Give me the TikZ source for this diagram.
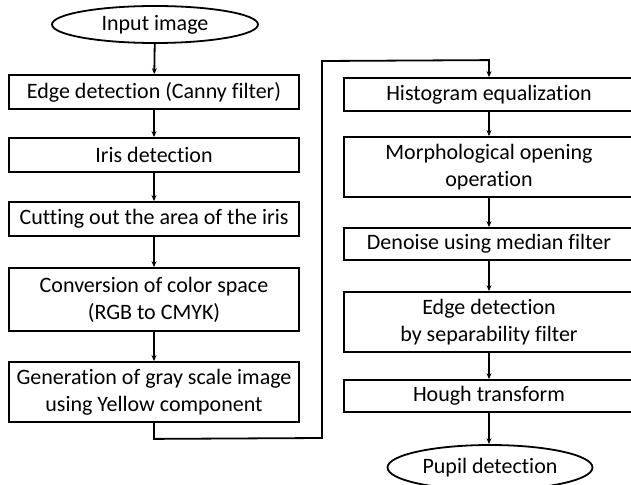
\documentclass[tikz,border=0pt]{standalone}
\usepackage{fontspec}
\setmainfont{Carlito}[Ligatures=NoCommon]
\usetikzlibrary{calc,shapes.geometric,arrows.meta}

\tikzset{
  stepbox/.style={draw=black, line width=1.8pt, rectangle, minimum width=290pt, inner sep=0pt, align=center, font=\fontsize{22}{27}\selectfont},
  termbox/.style={draw=black, line width=1.8pt, ellipse, inner sep=0pt, font=\fontsize{22}{27}\selectfont},
  flow/.style={line width=1.8pt, -{Stealth[length=6pt,width=5pt]}}
}

\begin{document}
\begin{tikzpicture}[x=1pt, y=-1pt]
\useasboundingbox (0,0) rectangle (631,484);

\node[termbox, minimum width=206pt, minimum height=37pt] (input) at (155,24.5) {Input image};

\node[stepbox, minimum height=34pt] (canny) at (154,92) {Edge detection (Canny filter)};

\node[stepbox, minimum height=34pt] (iris) at ($(canny) + (0,63)$) {Iris detection};

\node[stepbox, minimum height=34pt] (cut) at ($(iris) + (0,64)$) {Cutting out the area of the iris};

\node[stepbox, minimum height=63pt] (cmyk) at ($(cut) + (0,80.5)$) {Conversion of color space\\(RGB to CMYK)};

\node[stepbox, minimum height=60pt] (gray) at ($(cmyk) + (0,92.5)$) {Generation of gray scale image\\using Yellow component};

\node[stepbox, minimum height=33pt] (hist) at (489,94.5) {Histogram equalization};

\node[stepbox, minimum height=60pt] (morph) at ($(hist) + (0,72.5)$) {Morphological opening\\operation};

\node[stepbox, minimum height=32pt] (median) at ($(morph) + (0,77)$) {Denoise using median filter};

\node[stepbox, minimum height=60pt] (sep) at ($(median) + (0,78)$) {Edge detection\\by separability filter};

\node[stepbox, minimum height=32pt] (hough) at ($(sep) + (0,74)$) {Hough transform};

\node[termbox, minimum width=205pt, minimum height=45pt] (pupil) at ($(hough) + (1,71.5)$) {Pupil detection};

\coordinate (turn1) at ($(gray.south) + (0,16)$);
\coordinate (turn2) at (322,438);
\coordinate (turn3) at (322,61);
\coordinate (turn4) at ($(hist.north) + (0,-17)$);

\draw[flow] (input) -- (canny);
\draw[flow] (canny) -- (iris);
\draw[flow] (iris) -- (cut);
\draw[flow] (cut) -- (cmyk);
\draw[flow] (cmyk) -- (gray);

\draw[flow] (gray.south) -- (turn1) -- (turn2) -- (turn3) -- (turn4) -- (hist.north);

\draw[flow] (hist) -- (morph);
\draw[flow] (morph) -- (median);
\draw[flow] (median) -- (sep);
\draw[flow] (sep) -- (hough);
\draw[flow] (hough.south) -- (pupil.north -| hough.south);

\end{tikzpicture}
\end{document}
